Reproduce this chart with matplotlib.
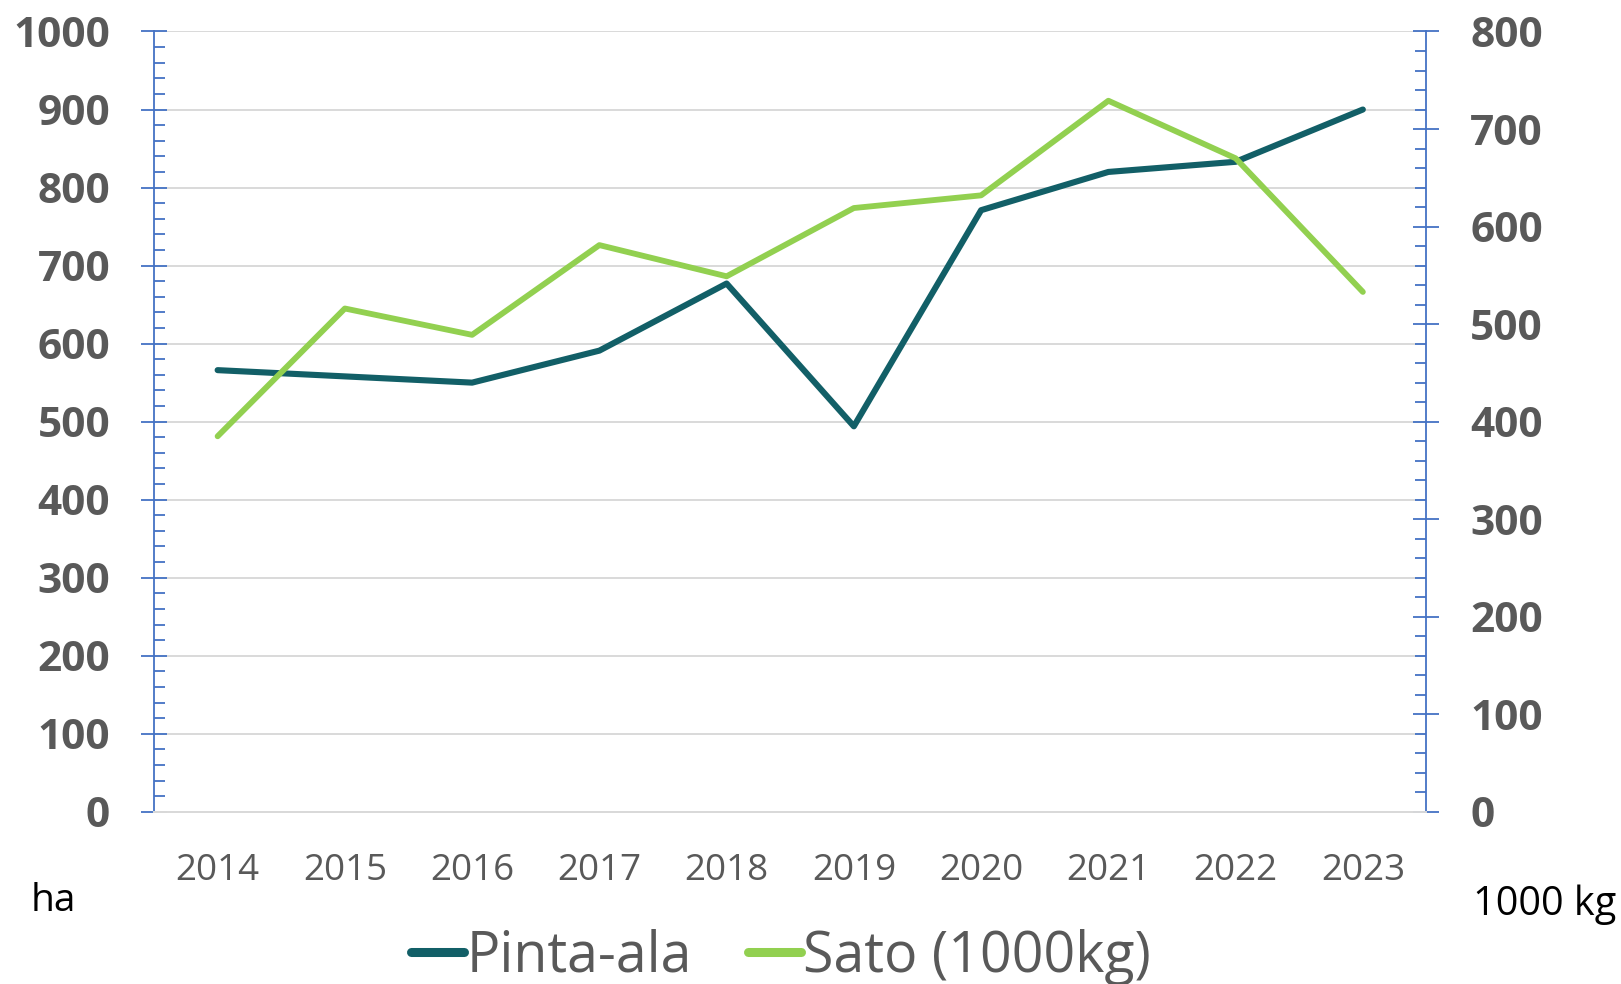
import matplotlib.pyplot as plt
from matplotlib.ticker import MultipleLocator

# data
Years = ["2014", "2015", "2016", "2017", "2018", "2019", "2020", "2021", "2022", "2023"]
PintaAla = [566, 558, 550, 591, 677, 494, 771, 820, 833, 900]
Sato = [385, 516, 489, 581, 549, 619, 632, 729, 670, 533]

AxisBlue = "#4472C4"
TextGrey = "#595959"
GridGrey = "#D9D9D9"
DarkTeal = "#125F67"
LightGreen = "#92D050"

plt.rcParams["font.family"] = ["Open Sans", "DejaVu Sans"]

Fig = plt.figure(figsize=(16.21, 9.84), dpi=100)
Ax = Fig.add_axes([0.095, 0.175, 0.785, 0.793])
Ax2 = Ax.twinx()

X = list(range(len(Years)))
LineArea, = Ax.plot(X, PintaAla, color=DarkTeal, linewidth=4.4, solid_capstyle="round",
                    solid_joinstyle="round", label="Pinta-ala", zorder=3)
LineYield, = Ax2.plot(X, Sato, color=LightGreen, linewidth=4.2, solid_capstyle="round",
                      solid_joinstyle="round", label="Sato (1000kg)", zorder=3)

Ax.set_xlim(-0.5, len(Years) - 0.5)
Ax.set_ylim(0, 1000)
Ax2.set_ylim(0, 800)

Ax.set_xticks(X)
Ax.set_xticklabels(Years)
Ax.tick_params(axis="x", length=0, pad=30, labelsize=26.5, labelcolor=TextGrey)

# left axis: 0..1000, gridlines every 100
Ax.yaxis.set_major_locator(MultipleLocator(100))
Ax.yaxis.set_minor_locator(MultipleLocator(20))
Ax.tick_params(axis="y", which="major", direction="inout", length=19, width=1.3,
               color=AxisBlue, pad=22, labelsize=30.5, labelcolor=TextGrey)
Ax.tick_params(axis="y", which="minor", direction="in", length=8, width=1.3, color=AxisBlue)
for Label in Ax.get_yticklabels():
    Label.set_fontweight("bold")
Ax.grid(axis="y", which="major", color=GridGrey, linewidth=1.4, zorder=0)
Ax.set_axisbelow(True)

# right axis: 0..800
Ax2.yaxis.set_major_locator(MultipleLocator(100))
Ax2.yaxis.set_minor_locator(MultipleLocator(20))
Ax2.tick_params(axis="y", which="major", direction="inout", length=19, width=1.3,
                color=AxisBlue, pad=22, labelsize=30.5, labelcolor=TextGrey)
Ax2.tick_params(axis="y", which="minor", direction="in", length=8, width=1.3, color=AxisBlue)
for Label in Ax2.get_yticklabels():
    Label.set_fontweight("bold")

for A in (Ax, Ax2):
    A.spines["top"].set_visible(False)
    A.spines["left"].set_color(AxisBlue)
    A.spines["right"].set_color(AxisBlue)
    A.spines["left"].set_linewidth(1.3)
    A.spines["right"].set_linewidth(1.3)
    A.spines["bottom"].set_color(GridGrey)
    A.spines["bottom"].set_linewidth(1.4)
Ax2.spines["left"].set_visible(False)
Ax.spines["right"].set_visible(False)

Fig.text(0.019, 1 - 911 / 984, "ha", fontsize=28, color="black", va="baseline", ha="left")
Fig.text(0.997, 1 - 915 / 984, "1000 kg", fontsize=28.5, color="black", va="baseline", ha="right")

Legend = Fig.legend(handles=[LineArea, LineYield], loc="center", bbox_to_anchor=(0.482, 0.027),
                    ncol=2, frameon=False, fontsize=40, labelcolor=TextGrey, handlelength=0.95,
                    handletextpad=0.05, columnspacing=1.0, borderpad=0)
for Handle in Legend.get_lines():
    Handle.set_linewidth(6.5)
    Handle.set_solid_capstyle("round")

Fig.savefig("out.png", dpi=100)
